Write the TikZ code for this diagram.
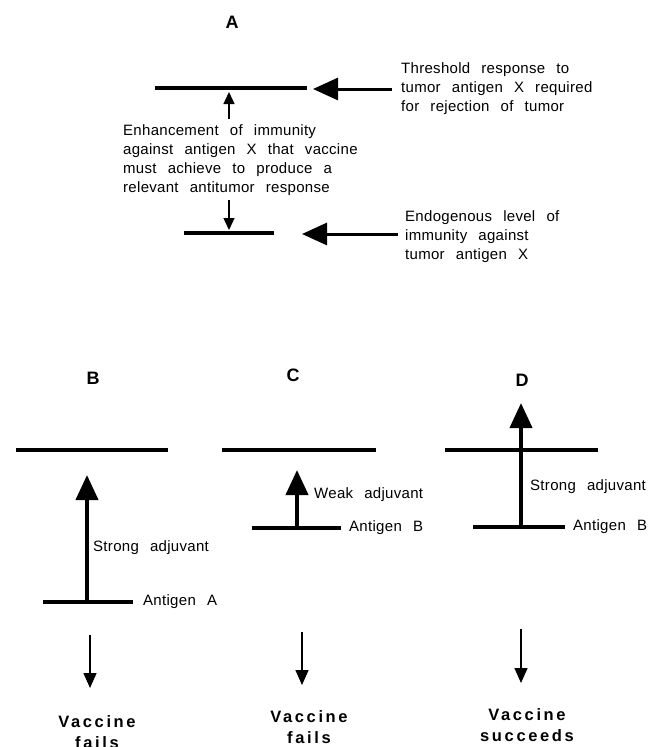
\documentclass[tikz,border=0pt]{standalone}
\usepackage{fontspec}
\setmainfont{Liberation Sans}[WordSpace=2.5,LetterSpace=2]
\newfontfamily\outfont{Liberation Sans}[LetterSpace=16,WordSpace=2]
\usetikzlibrary{arrows.meta}

\tikzset{
  level/.style={line width=4.5pt},
  fatarrow/.style={line width=4pt, -{Triangle[length=25pt,width=22pt]}},
  harrow/.style={line width=3pt, -{Triangle[length=25pt,width=22pt]}},
  thinarrow/.style={line width=1.3pt, -{Triangle[length=12pt,width=11pt]}},
  downarrow/.style={line width=1.5pt, -{Triangle[length=15pt,width=13pt]}},
  txt/.style={inner sep=0pt, anchor=west, align=left, font=\fontsize{15}{19}\selectfont},
  panel/.style={inner sep=0pt, font=\fontsize{18}{20}\selectfont\bfseries},
  outcome/.style={inner sep=0pt, anchor=north, align=center, font=\outfont\fontsize{16.5}{21}\selectfont\bfseries},
}

\begin{document}
\begin{tikzpicture}[x=1pt,y=-1pt]
\useasboundingbox (0,0) rectangle (665,747);

% Panel A: threshold and endogenous levels
\node[panel] (labA) at (232,22) {A};
\coordinate (thrL) at (155,88);
\coordinate (thrR) at (307,88);
\coordinate (endL) at (184,233);
\coordinate (endR) at (274,233);
\draw[level] (thrL) -- (thrR);
\draw[level] (endL) -- (endR);

\node[txt] (thrtxt) at (401,89) {Threshold response to\\tumor antigen X required\\for rejection of tumor};
\node[txt] (enhtxt) at (123,160) {Enhancement of immunity\\against antigen X that vaccine\\must achieve to produce a\\relevant antitumor response};
\node[txt] (endtxt) at (405,237) {Endogenous level of\\immunity against\\tumor antigen X};

\coordinate (thrtip) at (313,89);
\coordinate (endtip) at (302,234);
\draw[harrow, shorten <=9pt] (thrtxt.west) -- (thrtip);
\draw[harrow, shorten <=7pt] (endtxt.west |- endtip) -- (endtip);

% Small arrows round the enhancement text
\coordinate (upS) at (229,119);
\coordinate (upE) at (229,92);
\coordinate (dnS) at (229,200);
\coordinate (dnE) at (229,230);
\draw[thinarrow] (upS) -- (upE);
\draw[thinarrow] (dnS) -- (dnE);

% Panel B
\node[panel] (labB) at (93,378) {B};
\draw[level] (16,450) coordinate (topBl) -- (168,450) coordinate (topBr);
\draw[level] (43,602) coordinate (agBl) -- (133,602) coordinate (agBr);
\coordinate (baseB) at (87,602);
\coordinate (tipB) at (87,475);
\draw[fatarrow] (baseB) -- (tipB);
\node[txt] (adjB) at (93,548) {Strong adjuvant};
\node[txt] (antB) at (143,602) {Antigen A};

% Panel C
\node[panel] (labC) at (293,375) {C};
\draw[level] (222,450) coordinate (topCl) -- (376,450) coordinate (topCr);
\draw[level] (252,528) coordinate (agCl) -- (341,528) coordinate (agCr);
\coordinate (baseC) at (297,528);
\coordinate (tipC) at (297,470);
\draw[fatarrow] (baseC) -- (tipC);
\node[txt] (adjC) at (314,495) {Weak adjuvant};
\node[txt] (antC) at (349,528) {Antigen B};

% Panel D
\node[panel] (labD) at (522,380) {D};
\draw[level] (445,450) coordinate (topDl) -- (598,450) coordinate (topDr);
\draw[level] (473,527) coordinate (agDl) -- (565,527) coordinate (agDr);
\coordinate (baseD) at (521,527);
\coordinate (tipD) at (521,403);
\draw[fatarrow] (baseD) -- (tipD);
\node[txt] (adjD) at (530,487) {Strong adjuvant};
\node[txt] (antD) at (573,527) {Antigen B};

% Outcomes
\node[outcome] (outB) at (97,715) {Vaccine\\fails};
\node[outcome] (outC) at (309,710) {Vaccine\\fails};
\node[outcome] (outD) at (527,708) {Vaccine\\succeeds};
\foreach \p/\x/\ys/\ye in {B/90/635/688, C/302/632/685, D/521/629/683} {
  \coordinate (from\p) at (\x,\ys);
  \coordinate (to\p) at (\x,\ye);
  \draw[downarrow] (from\p) -- (to\p);
}

\end{tikzpicture}
\end{document}
